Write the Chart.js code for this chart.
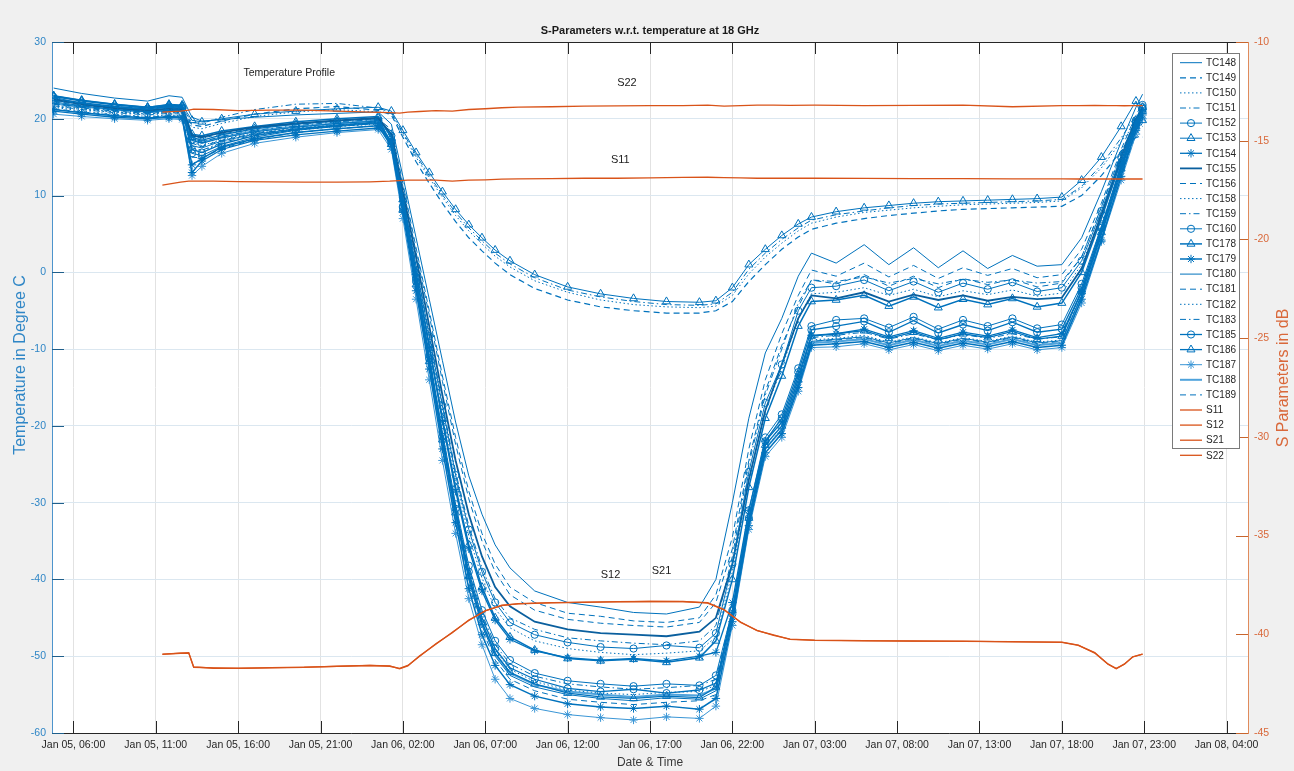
<!DOCTYPE html>
<html>
<head>
<meta charset="utf-8">
<title>S-Parameters w.r.t. temperature at 18 GHz</title>
<script src="https://cdn.jsdelivr.net/npm/chart.js@4.4.1/dist/chart.umd.min.js"></script>
<style>
  html, body { margin: 0; padding: 0; background: #f0f0f0; }
  #wrap { width: 1294px; height: 771px; }
</style>
</head>
<body>
<div id="wrap"><canvas id="chart" width="1294" height="771"></canvas></div>
<script>
"use strict";

// x values are hours counted from Jan 05, 00:00
const tickHours = [6, 11, 16, 21, 26, 31, 36, 41, 46, 51, 56, 61, 66, 71, 76];
const tickLabels = [
  'Jan 05, 06:00', 'Jan 05, 11:00', 'Jan 05, 16:00', 'Jan 05, 21:00',
  'Jan 06, 02:00', 'Jan 06, 07:00', 'Jan 06, 12:00', 'Jan 06, 17:00',
  'Jan 06, 22:00', 'Jan 07, 03:00', 'Jan 07, 08:00', 'Jan 07, 13:00',
  'Jan 07, 18:00', 'Jan 07, 23:00', 'Jan 08, 04:00'
];

// thermocouple readings (deg C)
const hours = [4.8, 6.5, 8.5, 10.5, 11.8, 12.6, 13.2, 13.8, 15, 17, 19.5, 22, 24.5,
  25.3, 26, 26.8, 27.6, 28.4, 29.2, 30, 30.8, 31.6, 32.5,
  34, 36, 38, 40, 42, 44,
  45, 46, 47, 48, 49, 50, 50.8,
  52.3, 54, 55.5, 57, 58.5, 60, 61.5, 63, 64.5, 66,
  67.2, 68.4, 69.6, 70.5, 70.9];

const tc148 = [24.0, 23.3, 22.7, 22.3, 23.0, 22.8, 20.2, 19.7, 19.9, 20.2, 20.5, 20.7, 20.9,
  19.3, 12.5, 4.5, -3.5, -11.5, -19.5, -26.5, -31.5, -35.5, -38.5,
  -41.5, -43.0, -43.6, -44.3, -44.5, -43.6,
  -40.0, -30.0, -19.0, -10.5, -6.0, -0.5, 2.5,
  1.2, 3.6, 1.0, 3.2, 0.6, 2.8, 0.5, 2.2, 0.8, 1.0,
  4.5, 10.5, 17.0, 21.5, 23.2];
const tc149 = [22.0, 21.6, 21.2, 20.9, 21.2, 21.1, 19.2, 19.0, 19.7, 20.6, 21.3, 21.6, 21.1,
  20.5, 17.6, 14.4, 11.6, 9.0, 6.6, 4.5, 2.8, 1.2, -0.3,
  -2.1, -3.6, -4.5, -5.0, -5.3, -5.3,
  -5.0, -3.8, -1.2, 1.0, 3.0, 4.6, 5.6,
  6.4, 7.0, 7.4, 7.7, 8.0, 8.2, 8.3, 8.4, 8.5, 8.6,
  10.0, 12.6, 15.8, 17.6, 17.6];
const tc150 = [21.6, 21.2, 20.9, 20.6, 20.9, 20.8, 18.9, 18.7, 19.4, 20.3, 20.9, 21.2, 20.9,
  20.7, 18.0, 15.0, 12.3, 9.8, 7.4, 5.4, 3.7, 2.1, 0.7,
  -1.1, -2.6, -3.6, -4.2, -4.5, -4.6,
  -4.4, -3.0, -0.2, 2.0, 3.8, 5.4, 6.4,
  7.2, 7.8, 8.1, 8.4, 8.6, 8.8, 8.9, 9.0, 9.1, 9.3,
  11.0, 13.6, 17.0, 19.5, 19.0];
const tc151 = [22.4, 22.0, 21.6, 21.3, 21.6, 21.5, 19.5, 19.4, 20.2, 21.2, 21.9, 22.0, 21.4,
  20.8, 18.2, 15.3, 12.6, 10.1, 7.8, 5.8, 4.1, 2.5, 1.1,
  -0.7, -2.3, -3.2, -3.8, -4.2, -4.3,
  -4.1, -2.6, 0.4, 2.5, 4.3, 5.8, 6.8,
  7.5, 8.0, 8.4, 8.7, 8.9, 9.0, 9.1, 9.2, 9.3, 9.5,
  11.2, 14.0, 17.5, 20.5, 20.2];
const tc152 = [22.8, 22.0, 21.5, 21.2, 21.5, 21.4, 17.2, 16.8, 17.5, 18.3, 18.9, 19.4, 19.7,
  17.8, 9.8, 0.8, -8.3, -17.4, -26.4, -33.5, -39.0, -43.0, -45.6,
  -47.2, -48.2, -48.8, -49.0, -48.6, -48.9,
  -47.0, -38.0, -26.0, -17.0, -12.0, -5.0, -2.0,
  -1.8, -1.0, -2.4, -1.2, -2.6, -1.4, -2.2, -1.3, -2.5, -2.0,
  1.5, 8.0, 15.0, 19.8, 21.8];
const tc153 = [23.0, 22.4, 21.9, 21.5, 21.9, 21.8, 19.8, 19.6, 20.0, 20.6, 21.0, 21.3, 21.5,
  21.0, 18.5, 15.6, 13.0, 10.5, 8.2, 6.2, 4.5, 2.9, 1.5,
  -0.3, -1.9, -2.8, -3.4, -3.8, -3.9,
  -3.7, -2.0, 1.0, 3.0, 4.8, 6.3, 7.2,
  7.9, 8.4, 8.7, 9.0, 9.2, 9.3, 9.4, 9.5, 9.6, 9.8,
  12.0, 15.0, 19.0, 22.3, 19.8];
const tc154 = [21.0, 20.6, 20.2, 20.0, 20.2, 20.1, 13.0, 14.5, 16.0, 17.2, 17.9, 18.4, 18.8,
  17.2, 9.2, -0.3, -9.8, -19.4, -28.5, -36.0, -41.5, -45.3, -47.8,
  -49.3, -50.2, -50.5, -50.3, -50.6, -50.0,
  -49.5, -43.0, -31.0, -22.0, -19.5, -13.5, -8.2,
  -8.0, -7.4, -8.4, -7.6, -8.6, -7.8, -8.3, -7.5, -8.5, -8.0,
  -2.5, 5.5, 14.0, 19.5, 21.0];
const tc155 = [22.5, 21.9, 21.4, 21.1, 21.3, 21.2, 17.8, 17.6, 18.2, 18.9, 19.4, 19.8, 20.1,
  18.0, 10.5, 2.0, -7.0, -16.0, -24.5, -31.5, -37.0, -41.0, -43.5,
  -45.5, -46.5, -47.0, -47.2, -47.4, -46.8,
  -45.0, -38.0, -27.0, -18.0, -12.0, -6.0, -3.0,
  -3.4, -2.6, -3.8, -2.9, -3.6, -3.0, -3.7, -3.2, -3.5, -3.3,
  0.5, 7.5, 15.0, 20.0, 21.5];
const tc156 = [22.3, 21.8, 21.3, 21.0, 21.2, 21.1, 18.0, 17.5, 18.0, 18.8, 19.3, 19.7, 20.0,
  18.6, 11.6, 3.2, -5.0, -13.5, -21.5, -28.5, -34.0, -38.0, -41.0,
  -43.0, -44.4, -44.8, -45.4, -45.6, -45.0,
  -42.0, -34.5, -23.0, -14.0, -8.0, -3.0, 0.3,
  -0.5, 1.2, -0.6, 0.9, -0.8, 0.6, -0.4, 0.5, -0.7, -0.3,
  3.0, 9.0, 16.0, 20.5, 22.0];
const tc158 = [21.8, 21.3, 20.9, 20.6, 20.8, 20.7, 17.0, 16.5, 17.3, 18.2, 18.8, 19.2, 19.5,
  17.6, 9.6, 0.5, -8.8, -18.0, -27.0, -34.3, -39.8, -43.8, -46.3,
  -48.0, -49.0, -49.5, -49.8, -49.6, -49.3,
  -47.5, -39.0, -27.0, -18.0, -12.5, -6.0, -2.8,
  -2.6, -2.0, -3.0, -2.2, -3.2, -2.4, -2.9, -2.3, -3.1, -2.7,
  1.0, 7.5, 15.0, 19.5, 21.0];
const tc159 = [22.0, 21.5, 21.1, 20.8, 21.0, 20.9, 17.5, 17.0, 17.7, 18.5, 19.1, 19.6, 19.9,
  18.0, 10.0, 1.0, -8.0, -17.0, -26.0, -33.0, -38.5, -42.5, -45.0,
  -46.5, -47.6, -48.0, -48.3, -48.5, -48.0,
  -46.0, -37.0, -25.0, -16.0, -10.0, -4.0, -1.0,
  -1.2, -0.6, -1.4, -0.8, -1.5, -0.9, -1.3, -1.0, -1.4, -1.2,
  2.0, 8.5, 15.5, 20.0, 21.0];
const tc160 = [22.4, 21.9, 21.4, 21.1, 21.4, 21.3, 15.5, 15.2, 16.4, 17.6, 18.5, 19.0, 19.4,
  17.0, 8.6, -0.8, -10.8, -20.8, -30.2, -38.2, -44.0, -48.0, -50.5,
  -52.2, -53.2, -53.6, -53.9, -53.6, -53.8,
  -52.5, -44.0, -31.0, -21.5, -18.5, -12.5, -7.0,
  -6.2, -6.0, -7.2, -5.8, -7.4, -6.2, -7.0, -6.0, -7.3, -6.8,
  -1.5, 6.0, 14.0, 19.5, 21.5];
const tc178 = [23.0, 22.4, 21.9, 21.5, 21.8, 21.7, 18.0, 17.8, 18.4, 19.0, 19.6, 20.0, 20.3,
  17.5, 9.5, 0.0, -9.5, -19.0, -28.0, -35.5, -41.0, -45.0, -47.5,
  -49.2, -50.3, -50.6, -50.4, -50.8, -50.2,
  -48.0, -40.0, -28.0, -19.0, -13.5, -7.0, -3.8,
  -3.6, -3.0, -4.4, -3.2, -4.6, -3.5, -4.2, -3.4, -4.5, -4.0,
  0.0, 7.0, 14.5, 19.5, 21.5];
const tc179 = [21.2, 20.8, 20.4, 20.1, 20.3, 20.2, 14.0, 14.8, 16.3, 17.4, 18.2, 18.7, 19.1,
  16.4, 7.8, -2.4, -12.6, -23.0, -32.6, -41.2, -47.2, -51.2, -53.7,
  -55.2, -56.2, -56.6, -56.8, -56.5, -56.9,
  -55.5, -45.5, -33.0, -23.5, -21.0, -15.0, -9.5,
  -9.3, -9.0, -9.8, -9.1, -9.9, -9.2, -9.7, -9.0, -9.8, -9.5,
  -3.5, 4.2, 12.5, 18.5, 20.5];
const tc180 = [22.2, 21.7, 21.2, 20.9, 21.1, 21.0, 16.5, 16.2, 17.1, 18.0, 18.7, 19.2, 19.6,
  16.6, 8.1, -1.8, -11.8, -22.0, -31.5, -40.0, -46.0, -50.0, -52.5,
  -54.0, -55.0, -55.5, -55.8, -55.4, -55.6,
  -54.5, -45.0, -32.5, -23.0, -20.5, -14.5, -9.0,
  -8.7, -8.4, -9.2, -8.5, -9.3, -8.6, -9.1, -8.4, -9.2, -8.9,
  -3.0, 5.0, 13.0, 18.5, 20.0];
const tc181 = [21.9, 21.4, 21.0, 20.7, 20.9, 20.8, 16.8, 16.4, 17.2, 18.1, 18.7, 19.1, 19.5,
  18.4, 11.2, 2.6, -5.6, -14.2, -22.4, -29.5, -35.0, -39.0, -42.0,
  -44.0, -45.2, -45.7, -46.0, -46.2, -45.6,
  -43.0, -36.0, -24.5, -15.5, -9.5, -4.5, -1.0,
  -1.5, -0.3, -1.8, -0.5, -2.0, -0.8, -1.6, -0.9, -1.9, -1.4,
  2.0, 8.5, 15.5, 20.0, 21.2];
const tc182 = [21.5, 21.0, 20.6, 20.3, 20.5, 20.4, 16.0, 15.8, 16.8, 17.8, 18.5, 19.0, 19.3,
  16.8, 8.3, -1.4, -11.4, -21.6, -31.0, -39.2, -45.2, -49.2, -51.7,
  -53.3, -54.4, -54.8, -55.0, -54.7, -54.6,
  -53.8, -44.5, -32.5, -23.0, -20.3, -14.5, -8.8,
  -8.6, -8.2, -9.1, -8.4, -9.2, -8.5, -9.0, -8.3, -9.1, -8.8,
  -3.0, 4.8, 13.2, 18.8, 20.5];
const tc183 = [21.7, 21.2, 20.8, 20.5, 20.7, 20.6, 16.2, 15.9, 16.9, 17.9, 18.6, 19.0, 19.4,
  17.0, 8.5, -1.0, -11.0, -21.0, -30.5, -38.5, -44.5, -48.5, -51.0,
  -52.6, -53.6, -54.0, -54.3, -54.1, -53.8,
  -53.0, -44.0, -32.0, -22.5, -20.0, -14.0, -8.5,
  -8.2, -7.8, -8.7, -8.0, -8.8, -8.1, -8.6, -8.0, -8.7, -8.4,
  -2.5, 5.0, 13.5, 19.0, 20.5];
const tc185 = [22.6, 22.1, 21.6, 21.3, 21.6, 21.5, 16.0, 15.6, 16.7, 17.8, 18.6, 19.1, 19.5,
  16.8, 8.4, -1.2, -11.2, -21.4, -30.8, -39.0, -45.0, -49.0, -51.5,
  -53.0, -54.2, -54.6, -54.3, -54.8, -54.4,
  -53.5, -44.5, -32.0, -22.0, -19.0, -13.0, -7.5,
  -7.0, -6.4, -7.8, -6.3, -7.9, -6.8, -7.6, -6.5, -7.8, -7.4,
  -2.0, 5.8, 13.8, 19.2, 21.3];
const tc186 = [22.9, 22.3, 21.8, 21.4, 21.7, 21.6, 17.6, 17.2, 17.9, 18.7, 19.3, 19.7, 20.1,
  16.7, 8.2, -1.6, -11.6, -21.8, -31.3, -39.6, -45.6, -49.6, -52.1,
  -53.6, -54.8, -55.3, -55.5, -55.2, -55.4,
  -54.0, -44.0, -32.0, -22.5, -20.0, -14.0, -8.3,
  -8.0, -7.6, -8.6, -7.8, -8.8, -8.0, -8.5, -7.7, -8.7, -8.3,
  -2.5, 5.2, 13.5, 19.0, 21.0];
const tc187 = [20.6, 20.3, 20.0, 19.8, 20.0, 19.9, 12.6, 13.8, 15.5, 16.8, 17.6, 18.2, 18.6,
  16.0, 7.0, -3.5, -14.0, -24.5, -34.0, -42.5, -48.5, -53.0, -55.5,
  -56.8, -57.6, -58.0, -58.3, -57.9, -58.1,
  -56.5, -46.0, -33.5, -24.0, -21.5, -15.5, -9.8,
  -9.7, -9.3, -10.1, -9.4, -10.2, -9.5, -10.0, -9.3, -10.1, -9.8,
  -4.0, 4.0, 12.0, 18.0, 20.0];
const tc188 = [22.0, 21.6, 21.2, 20.9, 21.1, 21.0, 17.2, 16.9, 17.6, 18.4, 19.0, 19.4, 19.8,
  16.7, 8.2, -1.6, -11.6, -21.8, -31.3, -39.7, -45.7, -49.7, -52.2,
  -53.7, -54.6, -55.0, -55.3, -55.0, -55.1,
  -54.2, -44.8, -32.5, -23.0, -20.5, -14.8, -9.2,
  -9.0, -8.7, -9.5, -8.8, -9.6, -8.9, -9.4, -8.7, -9.5, -9.2,
  -3.2, 4.8, 13.0, 18.8, 20.8];
const tc189 = [21.3, 20.9, 20.5, 20.2, 20.4, 20.3, 15.0, 14.9, 16.1, 17.3, 18.2, 18.7, 19.1,
  16.5, 8.0, -2.0, -12.0, -22.5, -32.0, -40.5, -46.5, -50.5, -53.0,
  -54.5, -55.6, -56.0, -56.3, -56.0, -55.8,
  -55.0, -45.0, -33.0, -23.0, -20.5, -14.5, -9.0,
  -8.8, -8.5, -9.3, -8.6, -9.4, -8.7, -9.2, -8.5, -9.3, -9.0,
  -3.0, 4.5, 12.5, 18.0, 19.5];

// S-parameters (dB), right axis
const sHours = [11.4, 12.5, 13.0, 13.3, 14.5, 16, 18, 20, 22, 24,
  25.2, 25.8, 26.3, 27, 28, 29, 30, 31, 32, 33,
  35, 37, 39, 41, 43, 44.5, 45.5, 46.5, 47.5, 48.5,
  49.5, 51, 54, 57, 60, 63, 66, 67, 68, 68.8,
  69.3, 69.8, 70.3, 70.9];
const s11 = [-17.25, -17.1, -17.05, -17.05, -17.05, -17.07, -17.08, -17.1, -17.1, -17.08,
  -17.05, -17.02, -17.0, -17.0, -17.0, -17.05, -17.0, -16.98, -16.95, -16.93,
  -16.92, -16.9, -16.9, -16.88, -16.86, -16.85, -16.87, -16.88, -16.9, -16.9,
  -16.9, -16.9, -16.91, -16.92, -16.92, -16.93, -16.93, -16.94, -16.94, -16.94,
  -16.93, -16.94, -16.94, -16.94];
const s12 = [-41.0, -40.95, -40.93, -41.65, -41.72, -41.72, -41.7, -41.68, -41.62, -41.58,
  -41.6, -41.75, -41.6, -41.1, -40.5, -39.9, -39.3, -38.8, -38.55, -38.45,
  -38.4, -38.38, -38.35, -38.33, -38.35, -38.4, -38.75, -39.4, -39.8, -40.05,
  -40.25, -40.3, -40.32, -40.35, -40.35, -40.38, -40.4, -40.55, -40.95, -41.5,
  -41.75, -41.5, -41.15, -41.0];
const s21 = [-41.02, -40.96, -40.95, -41.67, -41.7, -41.73, -41.69, -41.66, -41.63, -41.57,
  -41.62, -41.73, -41.58, -41.12, -40.48, -39.92, -39.28, -38.82, -38.53, -38.46,
  -38.41, -38.37, -38.36, -38.34, -38.34, -38.42, -38.77, -39.38, -39.82, -40.03,
  -40.26, -40.31, -40.33, -40.34, -40.36, -40.37, -40.41, -40.56, -40.93, -41.52,
  -41.73, -41.52, -41.14, -41.01];
const s22 = [-13.55, -13.5, -13.45, -13.4, -13.42, -13.48, -13.45, -13.45, -13.5, -13.55,
  -13.58, -13.6, -13.55, -13.52, -13.48, -13.5, -13.42, -13.38, -13.33, -13.3,
  -13.28, -13.25, -13.24, -13.22, -13.22, -13.2, -13.25, -13.22, -13.2, -13.2,
  -13.21, -13.2, -13.22, -13.21, -13.2, -13.28, -13.22, -13.22, -13.21, -13.22,
  -13.22, -13.23, -13.22, -13.22];

const tcNames = ['TC148', 'TC149', 'TC150', 'TC151', 'TC152', 'TC153', 'TC154', 'TC155',
  'TC156', 'TC158', 'TC159', 'TC160', 'TC178', 'TC179', 'TC180', 'TC181', 'TC182',
  'TC183', 'TC185', 'TC186', 'TC187', 'TC188', 'TC189'];
const tcValues = [tc148, tc149, tc150, tc151, tc152, tc153, tc154, tc155, tc156, tc158,
  tc159, tc160, tc178, tc179, tc180, tc181, tc182, tc183, tc185, tc186, tc187, tc188, tc189];
const sNames = ['S11', 'S12', 'S21', 'S22'];
const sValues = [s11, s12, s21, s22];

// looks, in legend order
const blue = '#0072BD';
const orange = '#D95319';
const DASH = { '-': [], '--': [6, 4], ':': [1.5, 2.5], '-.': [6, 3, 1.5, 3] };
const SIZE = { circle: 3.6, triangle: 4.6, star: 4.2 };
const tcLook = [
  ['-', null, 1], ['--', null, 1.2], [':', null, 1], ['-.', null, 1],
  ['-', 'circle', 1], ['-', 'triangle', 1], ['-', 'star', 1.3], ['-', null, 1.8, '#0a5f9e'],
  ['--', null, 1], [':', null, 1], ['-.', null, 1], ['-', 'circle', 1],
  ['-', 'triangle', 1.5], ['-', 'star', 1.5], ['-', null, 1], ['--', null, 1],
  [':', null, 1], ['-.', null, 1], ['-', 'circle', 1.3], ['-', 'triangle', 1.3],
  ['-', 'star', 1, '#3a96d6'], ['-', null, 2, '#4fa3dc'], ['--', null, 1]
];

const datasets = [];
tcNames.forEach((name, i) => {
  const [dash, marker, width, color] = tcLook[i];
  const c = color || blue;
  datasets.push({
    label: name,
    data: hours.map((h, k) => ({ x: h, y: tcValues[i][k] })),
    yAxisID: 'y',
    order: 1,
    borderColor: c,
    borderWidth: width,
    borderDash: DASH[dash],
    pointStyle: marker || 'circle',
    pointRadius: marker ? SIZE[marker] : 0,
    pointBorderColor: c,
    pointBackgroundColor: 'rgba(255,255,255,0)',
    pointBorderWidth: 1,
    tension: 0
  });
});
sNames.forEach((name, i) => {
  datasets.push({
    label: name,
    data: sHours.map((h, k) => ({ x: h, y: sValues[i][k] })),
    yAxisID: 'y2',
    order: 0,
    borderColor: orange,
    borderWidth: 1.3,
    borderDash: [],
    pointStyle: 'circle',
    pointRadius: 0,
    tension: 0
  });
});

const notes = [
  { text: 'Temperature Profile', x: 19.1, y: 25.9, axis: 'y' },
  { text: 'S22', x: 39.6, y: -12.1, axis: 'y2' },
  { text: 'S11', x: 39.2, y: -16.0, axis: 'y2' },
  { text: 'S12', x: 38.6, y: -37.0, axis: 'y2' },
  { text: 'S21', x: 41.7, y: -36.8, axis: 'y2' }
];

const FONT = '"Liberation Sans", Arial, sans-serif';

function drawMarker(ctx, style, x, y, r) {
  ctx.beginPath();
  if (style === 'circle') {
    ctx.arc(x, y, r, 0, Math.PI * 2);
  } else if (style === 'triangle') {
    ctx.moveTo(x, y - r);
    ctx.lineTo(x + r * 0.866, y + r * 0.5);
    ctx.lineTo(x - r * 0.866, y + r * 0.5);
    ctx.closePath();
  } else if (style === 'star') {
    ctx.moveTo(x - r, y); ctx.lineTo(x + r, y);
    ctx.moveTo(x, y - r); ctx.lineTo(x, y + r);
    const d = r * 0.707;
    ctx.moveTo(x - d, y - d); ctx.lineTo(x + d, y + d);
    ctx.moveTo(x - d, y + d); ctx.lineTo(x + d, y - d);
  }
  ctx.stroke();
}

// grey figure background and white axes box
const backdrop = {
  id: 'backdrop',
  beforeDraw(chart) {
    const { ctx, chartArea: a } = chart;
    ctx.save();
    ctx.fillStyle = '#f0f0f0';
    ctx.fillRect(0, 0, chart.width, chart.height);
    ctx.fillStyle = '#ffffff';
    ctx.fillRect(a.left, a.top, a.right - a.left, a.bottom - a.top);
    ctx.restore();
  }
};

// matlab-like decorations: inward ticks, titles, notes, legend
const decor = {
  id: 'decor',
  afterDraw(chart) {
    const { ctx, chartArea: a, scales } = chart;
    ctx.save();

    // top frame line
    ctx.strokeStyle = '#262626';
    ctx.lineWidth = 1;
    ctx.beginPath();
    ctx.moveTo(a.left, a.top + 0.5);
    ctx.lineTo(a.right, a.top + 0.5);
    ctx.stroke();

    // inward ticks
    const len = 12;
    ctx.beginPath();
    tickHours.forEach(h => {
      const x = Math.round(scales.x.getPixelForValue(h)) + 0.5;
      ctx.moveTo(x, a.bottom); ctx.lineTo(x, a.bottom - len);
      ctx.moveTo(x, a.top); ctx.lineTo(x, a.top + len);
    });
    ctx.stroke();
    ctx.strokeStyle = '#1f5f8b';
    ctx.beginPath();
    scales.y.ticks.forEach(t => {
      const y = Math.round(scales.y.getPixelForValue(t.value)) + 0.5;
      ctx.moveTo(a.left, y); ctx.lineTo(a.left + len, y);
    });
    ctx.stroke();
    ctx.strokeStyle = '#c8652d';
    ctx.beginPath();
    scales.y2.ticks.forEach(t => {
      const y = Math.round(scales.y2.getPixelForValue(t.value)) + 0.5;
      ctx.moveTo(a.right, y); ctx.lineTo(a.right - len, y);
    });
    ctx.stroke();

    // titles
    const cx = (a.left + a.right) / 2;
    ctx.textAlign = 'center';
    ctx.textBaseline = 'middle';
    ctx.fillStyle = '#1a1a1a';
    ctx.font = 'bold 11px ' + FONT;
    ctx.fillText('S-Parameters w.r.t. temperature at 18 GHz', cx, 31);
    ctx.fillStyle = '#3a3a3a';
    ctx.font = '12px ' + FONT;
    ctx.fillText('Date & Time', cx, 763);

    ctx.font = '16px ' + FONT;
    ctx.save();
    ctx.translate(21, 365);
    ctx.rotate(-Math.PI / 2);
    ctx.fillStyle = '#2f86c6';
    ctx.fillText('Temperature in Degree C', 0, 0);
    ctx.restore();
    ctx.save();
    ctx.translate(1284, 378);
    ctx.rotate(-Math.PI / 2);
    ctx.fillStyle = '#d9683a';
    ctx.fillText('S Parameters in dB', 0, 0);
    ctx.restore();

    // text notes inside the plot
    ctx.fillStyle = '#222222';
    notes.forEach((n, i) => {
      ctx.font = (i === 0 ? '10.5px ' : '11px ') + FONT;
      ctx.fillText(n.text, scales.x.getPixelForValue(n.x), scales[n.axis].getPixelForValue(n.y));
    });

    // legend box
    const bx = 1172, by = 53, bw = 67, bh = 395;
    ctx.fillStyle = '#ffffff';
    ctx.fillRect(bx, by, bw, bh);
    ctx.strokeStyle = '#7a7a7a';
    ctx.lineWidth = 1;
    ctx.strokeRect(bx + 0.5, by + 0.5, bw, bh);
    ctx.font = '10px ' + FONT;
    ctx.textAlign = 'left';
    chart.data.datasets.forEach((ds, i) => {
      const y = 62.7 + i * 15.1;
      ctx.strokeStyle = ds.borderColor;
      ctx.lineWidth = ds.borderWidth;
      ctx.setLineDash(ds.borderDash);
      ctx.beginPath();
      ctx.moveTo(1180, y); ctx.lineTo(1202, y);
      ctx.stroke();
      ctx.setLineDash([]);
      if (ds.pointRadius > 0) {
        ctx.lineWidth = 1;
        drawMarker(ctx, ds.pointStyle, 1191, y, ds.pointRadius);
      }
      ctx.fillStyle = '#262626';
      ctx.fillText(ds.label, 1206, y + 0.5);
    });
    ctx.restore();
  }
};

Chart.defaults.font.family = FONT;
Chart.defaults.font.size = 10.5;

new Chart(document.getElementById('chart'), {
  type: 'line',
  data: { datasets: datasets },
  options: {
    responsive: false,
    animation: false,
    events: [],
    layout: { padding: { top: 42, left: 0, right: 0, bottom: 0 } },
    plugins: {
      legend: { display: false },
      title: { display: false },
      tooltip: { enabled: false }
    },
    scales: {
      x: {
        type: 'linear',
        min: 4.7,
        max: 77.3,
        afterBuildTicks: (axis) => { axis.ticks = tickHours.map(v => ({ value: v })); },
        afterFit: (axis) => { axis.height = 38; },
        ticks: {
          autoSkip: false,
          maxRotation: 0,
          padding: 6,
          color: '#262626',
          callback: (value) => {
            const i = tickHours.indexOf(value);
            return i >= 0 ? tickLabels[i] : '';
          }
        },
        grid: { color: '#e2e2e2', drawTicks: false },
        border: { color: '#262626', width: 1 }
      },
      y: {
        position: 'left',
        min: -60,
        max: 30,
        afterFit: (axis) => { axis.width = 52; },
        ticks: { stepSize: 10, padding: 6, color: '#2f86c6' },
        grid: { color: '#dbe7f0', drawTicks: false },
        border: { color: '#4d94cc', width: 1 }
      },
      y2: {
        position: 'right',
        min: -45,
        max: -10,
        afterFit: (axis) => { axis.width = 46; },
        ticks: { stepSize: 5, padding: 6, color: '#d9683a' },
        grid: { drawOnChartArea: false, drawTicks: false },
        border: { color: '#e08b5c', width: 1 }
      }
    }
  },
  plugins: [backdrop, decor]
});
</script>
</body>
</html>
